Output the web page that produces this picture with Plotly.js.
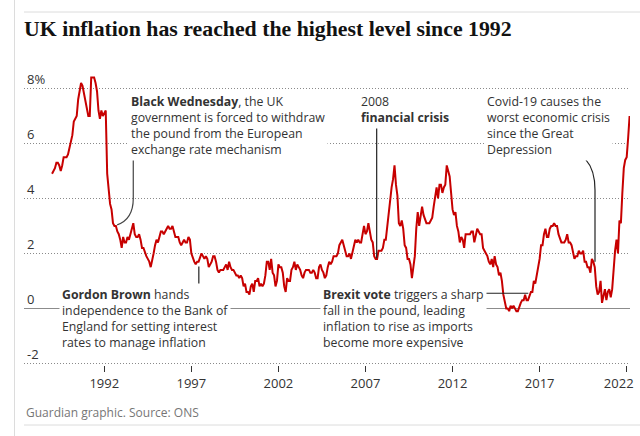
<!DOCTYPE html>
<html>
<head>
<meta charset="utf-8">
<script src="https://cdn.plot.ly/plotly-3.0.1.min.js"></script>
<style>
html,body{margin:0;padding:0;background:#fff;}
#chart{width:640px;height:436px;}
</style>
</head>
<body>
<div id="chart"></div>
<script>
// UK CPI annual rate (%), monthly, Jan 1989 - Mar 2022
const startYear = 1989;
const cpi1989_1992 = [
  4.9, 5.0, 5.1, 5.3, 5.3, 5.2, 5.0, 5.2, 5.5, 5.5, 5.5, 5.6,
  5.8, 6.0, 6.3, 6.8, 6.9, 7.0, 7.6, 8.0, 8.2, 8.1, 7.8, 7.5,
  7.2, 7.0, 7.0, 8.4, 8.4, 8.4, 8.2, 7.9, 7.2, 6.9, 7.2, 7.0,
  7.1, 7.2, 4.9, 4.3, 3.8, 3.6, 3.1, 3.0, 3.0, 2.8, 2.7, 2.5
];
const cpi1993_1998 = [
  2.2, 2.6, 2.4, 2.4, 2.6, 2.5, 2.7, 3.0, 3.1, 2.7, 2.6, 2.6,
  2.7, 2.5, 2.2, 2.2, 2.0, 1.9, 1.8, 1.7, 1.5, 1.7, 2.0, 2.3,
  2.5, 2.4, 2.6, 2.8, 2.8, 2.7, 2.8, 2.9, 3.0, 2.9, 2.9, 3.0,
  2.8, 2.6, 2.6, 2.6, 2.4, 2.3, 2.4, 2.5, 2.4, 2.4, 2.6, 2.5,
  2.0, 1.8, 1.7, 1.6, 1.7, 1.7, 1.9, 2.0, 1.9, 1.8, 1.9, 1.8,
  1.5, 1.6, 1.7, 1.9, 1.9, 1.7, 1.4, 1.3, 1.4, 1.4, 1.4, 1.5
];
const cpi1999_2004 = [
  1.6, 1.4, 1.7, 1.5, 1.4, 1.4, 1.3, 1.2, 1.2, 1.1, 1.2, 1.1,
  0.8, 0.9, 0.6, 0.6, 0.5, 0.8, 0.9, 0.6, 1.0, 1.0, 1.1, 0.8,
  0.9, 0.8, 0.9, 1.2, 1.7, 1.7, 1.4, 1.8, 1.3, 1.2, 0.8, 1.0,
  1.6, 1.5, 1.5, 1.3, 0.8, 0.6, 1.1, 1.0, 1.0, 1.4, 1.5, 1.7,
  1.4, 1.6, 1.5, 1.4, 1.2, 1.1, 1.3, 1.4, 1.4, 1.4, 1.3, 1.3,
  1.4, 1.3, 1.1, 1.1, 1.5, 1.6, 1.4, 1.3, 1.1, 1.2, 1.5, 1.7
];
const cpi2005_2010 = [
  1.6, 1.7, 1.9, 1.9, 1.9, 2.0, 2.3, 2.4, 2.5, 2.3, 2.1, 1.9,
  1.9, 2.0, 1.8, 2.0, 2.2, 2.5, 2.4, 2.5, 2.4, 2.4, 2.7, 3.0,
  2.7, 2.8, 3.1, 2.8, 2.5, 2.4, 1.9, 1.8, 1.8, 2.1, 2.1, 2.1,
  2.2, 2.5, 2.5, 3.0, 3.3, 3.8, 4.4, 4.7, 5.2, 4.5, 4.1, 3.1,
  3.0, 3.2, 2.9, 2.3, 2.2, 1.8, 1.8, 1.6, 1.1, 1.5, 1.9, 2.9,
  3.5, 3.0, 3.4, 3.7, 3.4, 3.2, 3.1, 3.1, 3.1, 3.2, 3.3, 3.7
];
const cpi2011_2016 = [
  4.0, 4.4, 4.0, 4.5, 4.5, 4.2, 4.4, 4.5, 5.2, 5.0, 4.8, 4.2,
  3.6, 3.4, 3.5, 3.0, 2.8, 2.4, 2.6, 2.5, 2.2, 2.7, 2.7, 2.7,
  2.7, 2.8, 2.8, 2.4, 2.7, 2.9, 2.8, 2.7, 2.7, 2.2, 2.1, 2.0,
  1.9, 1.7, 1.6, 1.8, 1.5, 1.9, 1.6, 1.5, 1.2, 1.3, 1.0, 0.5,
  0.3, 0.0, 0.0, -0.1, 0.1, 0.0, 0.1, 0.0, -0.1, -0.1, 0.1, 0.2,
  0.3, 0.3, 0.5, 0.3, 0.3, 0.5, 0.6, 0.6, 1.0, 0.9, 1.2, 1.6
];
const cpi2017_2022 = [
  1.8, 2.3, 2.3, 2.7, 2.9, 2.6, 2.6, 2.9, 3.0, 3.0, 3.1, 3.0,
  3.0, 2.7, 2.5, 2.4, 2.4, 2.4, 2.5, 2.7, 2.4, 2.4, 2.3, 2.1,
  1.8, 1.9, 1.9, 2.1, 2.0, 2.0, 2.1, 1.7, 1.7, 1.5, 1.5, 1.3,
  1.8, 1.7, 1.5, 0.8, 0.5, 0.6, 1.0, 0.2, 0.5, 0.7, 0.3, 0.6,
  0.7, 0.4, 0.7, 1.5, 2.1, 2.5, 2.0, 3.2, 3.1, 4.2, 5.1, 5.4,
  5.5, 6.2, 7.0
];

const xTickVals = [1992, 1997, 2002, 2007, 2012, 2017];
const xLastTickVals = [2022];
const yTickVals = [-2, 0, 2, 4, 6, 8];
const yTickText = ['-2', '0', '2', '4', '6', '8%'];

const titleText = 'UK inflation has reached the highest level since 1992';
const sourceText = 'Guardian graphic. Source: ONS';
const noteBlackWednesday = '<b>Black Wednesday</b>, the UK<br>government is forced to withdraw<br>the pound from the European<br>exchange rate mechanism';
const noteCrisis = '2008<br><b>financial crisis</b>';
const noteCovid = 'Covid-19 causes the<br>worst economic crisis<br>since the Great<br>Depression';
const noteBrown = '<b>Gordon Brown</b> hands<br>independence to the Bank of<br>England for setting interest<br>rates to manage inflation';
const noteBrexit = '<b>Brexit vote</b> triggers a sharp<br>fall in the pound, leading<br>inflation to rise as imports<br>become more expensive';

const cpi = [].concat(cpi1989_1992, cpi1993_1998, cpi1999_2004, cpi2005_2010, cpi2011_2016, cpi2017_2022);
const months = cpi.map((v, i) => startYear + i / 12);

const RED = '#c70000';
const TXT = '#333333';
const FONT = 'Open Sans, Noto Sans, sans-serif';

const traces = [
  {
    type: 'scatter', mode: 'lines', x: months, y: cpi,
    line: {color: RED, width: 2}, hoverinfo: 'skip', cliponaxis: false
  },
  {
    type: 'scatter', mode: 'lines', x: [], y: [], xaxis: 'x2', yaxis: 'y',
    hoverinfo: 'skip', showlegend: false
  }
];

const noteFont = {family: FONT, size: 12.3, color: TXT};
function note(text, x, y) {
  return {
    text: text, x: x, y: y, xref: 'x', yref: 'y',
    xanchor: 'left', yanchor: 'top', align: 'left', showarrow: false,
    bgcolor: '#ffffff', borderpad: 2, font: noteFont
  };
}

const xRange = [1987.39, 2022.19];
const plotTop = 61, plotBottom = 365, plotH = plotBottom - plotTop;

const layout = {
  width: 640, height: 436,
  margin: {l: 24, r: 10, t: plotTop, b: 436 - plotBottom},
  paper_bgcolor: '#ffffff', plot_bgcolor: '#ffffff',
  showlegend: false,
  font: {family: FONT, size: 13, color: TXT},
  title: {
    text: titleText, xref: 'container', yref: 'container',
    x: 24 / 640, xanchor: 'left', y: 0.934, yanchor: 'middle',
    font: {family: 'Liberation Serif, serif', size: 21.8, color: '#121212', weight: 'bold'}
  },
  xaxis: {
    range: xRange, tickvals: xTickVals, ticktext: xTickVals.map(String),
    ticks: 'outside', ticklen: 6, tickwidth: 1, tickcolor: '#333',
    showgrid: false, zeroline: false, showline: false,
    tickfont: {family: FONT, size: 13, color: TXT}, fixedrange: true
  },
  xaxis2: {
    overlaying: 'x', anchor: 'y', side: 'bottom', range: xRange,
    tickvals: xLastTickVals, ticktext: xLastTickVals.map(String),
    ticks: 'outside', ticklen: 6, tickwidth: 1, tickcolor: '#333',
    ticklabelshift: -8,
    showgrid: false, zeroline: false, showline: false,
    tickfont: {family: FONT, size: 13, color: TXT}, fixedrange: true
  },
  yaxis: {
    range: [-2.06, 9.0], tickvals: yTickVals, ticktext: yTickText,
    ticklabelposition: 'inside top', ticks: '',
    showgrid: true, gridcolor: '#8a8a8a', griddash: '1px,2px', gridwidth: 1,
    zeroline: true, zerolinecolor: '#8c8c8c', zerolinewidth: 1.6,
    showline: false, tickfont: {family: FONT, size: 13, color: TXT}, fixedrange: true
  },
  annotations: [
    note(noteBlackWednesday, 1993.36, 7.93),
    note(noteCrisis, 2006.57, 7.95),
    note(noteCovid, 2013.82, 7.95),
    note(noteBrown, 1989.38, 0.92),
    note(noteBrexit, 2004.37, 0.92),
    {
      text: sourceText, xref: 'paper', yref: 'paper', x: 0, y: -(402 - plotBottom) / plotH,
      xanchor: 'left', yanchor: 'top', showarrow: false, align: 'left',
      font: {family: FONT, size: 12, color: '#767676'}
    }
  ],
  shapes: [
    // Black Wednesday pointer
    {type: 'path', xref: 'x', yref: 'y', path: 'M 1993.665,5.41 L 1993.665,4.0 Q 1993.665,3.25 1992.74,3.04',
     line: {color: '#444', width: 1.2}},
    // Gordon Brown pointer
    {type: 'line', xref: 'x', yref: 'y', x0: 1997.43, x1: 1997.43, y0: 1.52, y1: 0.6,
     line: {color: '#222', width: 1.2}},
    // 2008 pointer
    {type: 'line', xref: 'x', yref: 'y', x0: 2007.643, x1: 2007.643, y0: 6.57, y1: 1.82,
     line: {color: '#222', width: 1.2}},
    // Brexit pointer
    {type: 'line', xref: 'x', yref: 'y', x0: 2013.77, x1: 2016.35, y0: 0.55, y1: 0.55,
     line: {color: '#222', width: 1.2}},
    // Covid pointer
    {type: 'path', xref: 'x', yref: 'y', path: 'M 2018.07,5.78 Q 2020.18,5.78 2020.18,4.3 L 2020.18,1.70',
     line: {color: '#222', width: 1.2}},
    // frame rules
    {type: 'line', xref: 'paper', yref: 'paper', x0: 0, x1: 616 / 606, y0: (plotBottom - 12) / plotH, y1: (plotBottom - 12) / plotH,
     line: {color: '#dcdcdc', width: 1}},
    {type: 'line', xref: 'paper', yref: 'paper', x0: 0, x1: 616 / 606, y0: (plotBottom - 425) / plotH, y1: (plotBottom - 425) / plotH,
     line: {color: '#dcdcdc', width: 1}},
    {type: 'line', xref: 'paper', yref: 'paper', x0: (14.5 - 24) / 606, x1: (14.5 - 24) / 606, y0: plotBottom / plotH, y1: (plotBottom - 436) / plotH,
     line: {color: '#dcdcdc', width: 1}}
  ]
};

Plotly.newPlot('chart', traces, layout, {displayModeBar: false, staticPlot: true});
</script>
</body>
</html>
